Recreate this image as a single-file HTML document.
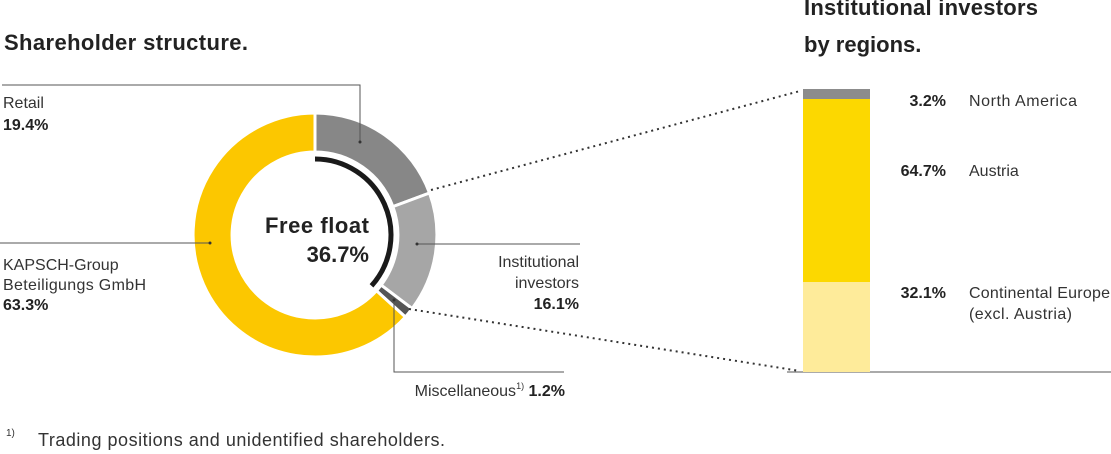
<!DOCTYPE html>
<html><head><meta charset="utf-8"><style>
html,body{margin:0;padding:0;background:#fff;}
svg{display:block;font-family:"Liberation Sans",Arial,sans-serif;}
</style></head><body>
<svg width="1111" height="454" viewBox="0 0 1111 454" xmlns="http://www.w3.org/2000/svg">
<text x="4" y="50" font-size="22" font-weight="bold" fill="#222" textLength="244">Shareholder structure.</text>
<text x="804" y="15" font-size="22" font-weight="bold" fill="#222" textLength="234">Institutional investors</text>
<text x="804" y="52" font-size="22" font-weight="bold" fill="#222">by regions.</text>

<g stroke="#fff" stroke-width="3">
<path d="M315,113 A122,122 0 0 1 429.5,193.0 L392.9,206.6 A83,83 0 0 0 315,152 Z" fill="#878787"/>
<path d="M429.5,193.0 A122,122 0 0 1 412.1,308.6 L381.1,285.1 A83,83 0 0 0 392.9,206.6 Z" fill="#a6a6a6"/>
<path d="M412.1,308.6 A122,122 0 0 1 405.4,317.0 L376.5,290.8 A83,83 0 0 0 381.1,285.1 Z" fill="#555"/>
<path d="M405.4,317.0 A122,122 0 1 1 315,113 L315,152 A83,83 0 1 0 376.5,290.8 Z" fill="#fcc700"/>
</g>
<path d="M315,159 A76,76 0 0 1 371.5,285.8" fill="none" stroke="#1a1a1a" stroke-width="5"/>
<text x="369" y="233" font-size="22" font-weight="bold" fill="#222" text-anchor="end" textLength="104">Free float</text>
<text x="369" y="262" font-size="22" font-weight="bold" fill="#222" text-anchor="end">36.7%</text>

<g stroke="#555" stroke-width="1" fill="none">
<polyline points="2,85 360,85 360,142"/>
<line x1="0" y1="243" x2="210" y2="243"/>
<line x1="417" y1="244" x2="580" y2="244"/>
<polyline points="394,300 394,372 564,372"/>
<line x1="787" y1="372" x2="1111" y2="372"/>
</g>
<g fill="#333"><circle cx="360" cy="142" r="1.5"/><circle cx="210" cy="243" r="1.5"/><circle cx="417" cy="244" r="1.5"/><circle cx="394" cy="300" r="1.5"/></g>
<g stroke="#333" stroke-width="2" stroke-dasharray="2,4" fill="none">
<line x1="431" y1="190" x2="800" y2="91"/>
<line x1="409" y1="309" x2="800" y2="371"/>
</g>

<g font-size="16">
<text x="3" y="108" fill="#333">Retail</text>
<text x="3" y="130" font-weight="bold" fill="#222">19.4%</text>
<text x="3" y="270" fill="#333">KAPSCH-Group</text>
<text x="3" y="290" fill="#333" textLength="143">Beteiligungs GmbH</text>
<text x="3" y="310" font-weight="bold" fill="#222">63.3%</text>
<text x="579" y="267" fill="#333" text-anchor="end">Institutional</text>
<text x="579" y="288" fill="#333" text-anchor="end">investors</text>
<text x="579" y="309" font-weight="bold" fill="#222" text-anchor="end">16.1%</text>
<text x="565" y="396" fill="#333" text-anchor="end">Miscellaneous<tspan font-size="9" dy="-7">1)</tspan><tspan dy="7" font-weight="bold" fill="#222"> 1.2%</tspan></text>
</g>

<rect x="803" y="89" width="67" height="10" fill="#8c8c8c"/>
<rect x="803" y="99" width="67" height="183" fill="#fcd800"/>
<rect x="803" y="282" width="67" height="90" fill="#feeb9a"/>
<g font-size="16">
<text x="946" y="106" font-weight="bold" fill="#222" text-anchor="end">3.2%</text>
<text x="969" y="106" fill="#333" textLength="108">North America</text>
<text x="946" y="176" font-weight="bold" fill="#222" text-anchor="end">64.7%</text>
<text x="969" y="176" fill="#333">Austria</text>
<text x="946" y="298" font-weight="bold" fill="#222" text-anchor="end">32.1%</text>
<text x="969" y="298" fill="#333" textLength="141">Continental Europe</text>
<text x="969" y="319" fill="#333" textLength="103">(excl. Austria)</text>
</g>

<text x="6" y="436" font-size="10" fill="#333">1)</text>
<text x="38" y="446" font-size="18" fill="#333" textLength="407">Trading positions and unidentified shareholders.</text>
</svg>
</body></html>
